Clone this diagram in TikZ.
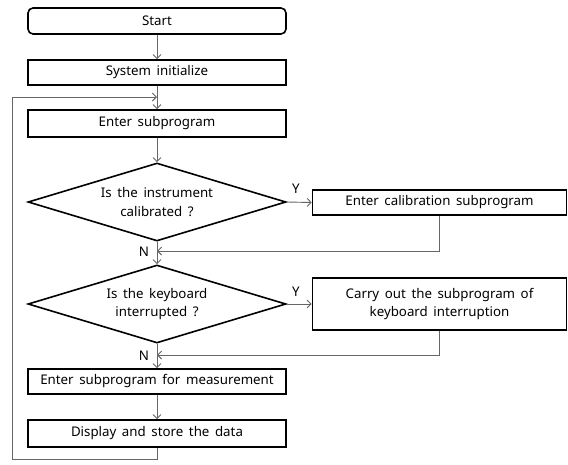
\documentclass[tikz,border=0pt]{standalone}
\usepackage{fontspec}
\setmainfont{Noto Sans}
\usetikzlibrary{shapes.geometric,arrows.meta}
\newcommand{\dfont}{\fontsize{13.3}{18.5}\selectfont\spaceskip=0.42em plus 0.1em\relax}
\tikzset{
  box/.style={draw=black,line width=1.6pt,minimum width=258pt,inner sep=0pt,align=center,font=\dfont},
  dec/.style={draw=black,line width=1.6pt,diamond,aspect=3.3,inner sep=0pt,minimum width=258pt,minimum height=78pt,align=center,font=\dfont},
  conn/.style={draw=black!60,line width=0.9pt,-{Straight Barb[length=4pt,width=8pt]}},
  lbl/.style={font=\dfont,inner sep=0pt}
}
\begin{document}
\begin{tikzpicture}[x=1pt,y=-1pt]
\useasboundingbox[fill=white] (0,0) rectangle (568,464);
\node[box,rounded corners=5pt,minimum height=26pt] (start) at (157,21) {Start};
\node[box,minimum height=25pt] (init) at (157,72.5) {System initialize};
\node[box,minimum height=27pt] (sub) at (157,123.5) {Enter subprogram};
\node[dec] (d1) at (157,202) {Is the instrument\\calibrated ?};
\node[box,minimum width=254pt,minimum height=25pt] (cal) at (439.5,202.5) {Enter calibration subprogram};
\node[dec] (d2) at (157,304) {Is the keyboard\\interrupted ?};
\node[box,minimum width=254pt,minimum height=52pt] (key) at (439.5,304) {Carry out the subprogram of\\keyboard interruption};
\node[box,minimum height=25pt] (meas) at (157,381.5) {Enter subprogram for measurement};
\node[box,minimum height=27pt] (disp) at (157,433.5) {Display and store the data};

\coordinate (j0) at (157,97);
\coordinate (j1) at (157,251);
\coordinate (j2) at (157,355);
\coordinate (lb) at (12,459);
\coordinate (lt) at (12,97);

\draw[conn] (start) -- (init);
\draw[conn] (init) -- (sub);
\draw[conn] (sub) -- (d1);
\draw[conn] (d1.east) -- (cal.west);
\draw[conn] (cal.south) |- (j1);
\draw[conn] (d1.south) -- (d2.north);
\draw[conn] (d2.east) -- (key.west);
\draw[conn] (key.south) |- (j2);
\draw[conn] (d2.south) -- (meas.north);
\draw[conn] (meas) -- (disp);
\draw[conn] (disp.south) |- (lb) -- (lt) -- (j0);

\node[lbl] (y1) at (296,189) {Y};
\node[lbl] (y2) at (296,292) {Y};
\node[lbl] (n1) at (144,252) {N};
\node[lbl] (n2) at (144,356) {N};
\end{tikzpicture}
\end{document}
